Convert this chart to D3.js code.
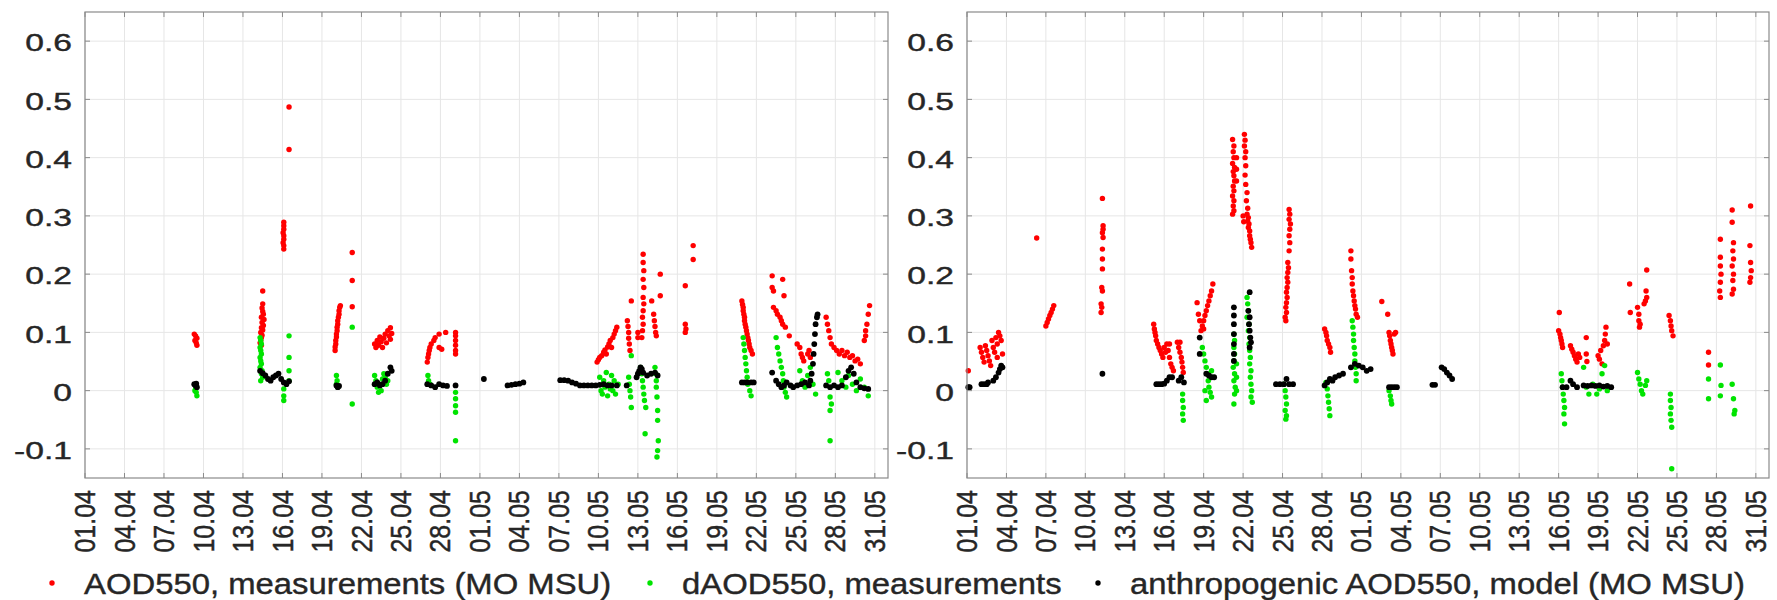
<!DOCTYPE html>
<html>
<head>
<meta charset="utf-8">
<script src="https://cdn.jsdelivr.net/npm/d3@7"></script>
<style>
  html, body { margin: 0; padding: 0; background: #fff; }
  svg { display: block; font-family: "Liberation Sans", Arial, sans-serif; }
  svg text { stroke: #262626; stroke-width: 0.4px; }
</style>
</head>
<body>
<div id="chart"></div>
<script>
// points are [days since 01.04, value]

// left panel
const leftAOD = [
  [8.3,0.097],[8.4,0.094],[8.5,0.09],[8.35,0.086],[8.45,0.082],[8.5,0.078],
  [13.5,0.171],[13.5,0.149],[13.45,0.142],[13.5,0.136],[13.55,0.131],[13.4,0.126],[13.6,0.122],[13.45,0.117],[13.55,0.112],
  [13.4,0.108],[13.5,0.104],[13.35,0.1],[13.45,0.095],[13.4,0.091],[13.35,0.086],[13.3,0.082],[13.4,0.078],
  [15.1,0.289],[15.1,0.283],[15.1,0.277],[15.05,0.271],[15.1,0.266],[15.1,0.26],[15.05,0.254],[15.1,0.249],[15.1,0.243],
  [15.5,0.487],[15.5,0.414],
  [19.0,0.069],[19.0,0.075],[19.05,0.08],[19.05,0.086],[19.1,0.092],[19.1,0.097],[19.15,0.103],[19.15,0.109],[19.2,0.114],
  [19.2,0.12],[19.25,0.126],[19.3,0.131],[19.3,0.137],[19.35,0.143],[19.4,0.146],
  [20.3,0.237],[20.3,0.189],[20.3,0.144],
  [22.0,0.08],[22.1,0.074],[22.2,0.086],[22.3,0.078],[22.4,0.092],[22.5,0.084],[22.6,0.074],[22.7,0.09],[22.8,0.097],
  [22.9,0.082],[23.0,0.103],[23.1,0.094],[23.2,0.108],[23.2,0.088],[23.3,0.098],
  [26.0,0.049],[26.05,0.057],[26.1,0.063],[26.15,0.069],[26.2,0.074],[26.3,0.08],[26.5,0.086],[26.6,0.091],[26.9,0.074],
  [27.1,0.071],[27.4,0.1],[26.9,0.097],
  [28.15,0.1],[28.15,0.094],[28.15,0.086],[28.15,0.078],[28.15,0.069],[28.15,0.063],
  [38.9,0.049],[39.0,0.053],[39.1,0.057],[39.25,0.06],[39.4,0.066],[39.5,0.07],[39.6,0.063],[39.7,0.075],[39.8,0.08],
  [39.9,0.086],[40.0,0.074],[40.1,0.091],[40.2,0.097],[40.3,0.103],[40.4,0.109],
  [41.2,0.12],[41.25,0.11],[41.3,0.1],[41.3,0.09],[41.35,0.08],[41.4,0.069],[41.5,0.154],
  [42.4,0.234],[42.4,0.22],[42.45,0.206],[42.4,0.191],[42.45,0.177],[42.4,0.16],[42.45,0.149],[42.4,0.137],[42.35,0.126],
  [42.4,0.114],[42.35,0.103],[42.3,0.091],[42.0,0.1],[42.0,0.091],
  [43.05,0.154],[43.2,0.131],[43.25,0.12],[43.3,0.11],[43.35,0.1],[43.4,0.094],[43.7,0.2],[43.7,0.163],
  [45.6,0.18],[45.6,0.114],[45.65,0.106],[45.6,0.1],[46.2,0.249],[46.2,0.225],
  [49.9,0.154],[49.95,0.148],[50.0,0.143],[50.0,0.137],[50.05,0.131],[50.1,0.126],[50.1,0.12],[50.15,0.114],[50.2,0.109],
  [50.25,0.103],[50.3,0.097],[50.35,0.091],[50.4,0.086],[50.45,0.08],[50.5,0.074],[50.6,0.069],[50.7,0.063],
  [52.2,0.197],[53.0,0.191],[52.2,0.177],[52.3,0.171],[53.1,0.163],[52.3,0.143],[52.5,0.137],[52.6,0.131],[52.8,0.126],
  [52.9,0.12],[53.0,0.114],[53.2,0.109],[53.5,0.094],
  [54.1,0.08],[54.3,0.074],[54.4,0.063],[54.5,0.057],[54.6,0.051],[54.9,0.063],[55.0,0.069],[55.1,0.057],
  [56.3,0.126],[56.4,0.114],[56.5,0.103],[56.6,0.091],[56.7,0.08],
  [56.9,0.074],[57.1,0.069],[57.3,0.063],[57.5,0.069],[57.7,0.06],[57.9,0.066],[58.1,0.057],[58.3,0.06],[58.5,0.051],
  [58.7,0.054],[58.9,0.046],
  [59.2,0.086],[59.3,0.094],[59.3,0.103],[59.4,0.114],[59.5,0.131],[59.6,0.146]
];
const leftDAOD = [
  [8.4,0.003],[8.45,-0.003],[8.5,-0.009],[8.35,0.0],
  [13.3,0.091],[13.35,0.086],[13.4,0.08],[13.3,0.074],[13.35,0.069],[13.4,0.063],[13.3,0.057],[13.35,0.051],[13.4,0.046],
  [13.3,0.04],[13.45,0.034],[13.4,0.029],[13.5,0.023],[13.35,0.017],
  [15.5,0.094],[15.5,0.057],[15.5,0.034],[15.5,0.017],[15.1,0.003],[15.1,-0.009],[15.1,-0.017],
  [19.1,0.026],[19.15,0.017],[19.1,0.011],[19.2,0.006],
  [20.3,0.109],[20.3,-0.023],
  [22.0,0.026],[22.1,0.017],[22.2,0.006],[22.3,-0.003],[22.4,0.011],[22.5,0.0],[22.6,0.02],[22.7,0.029],[22.8,0.023],
  [22.9,0.011],[23.0,0.017],
  [26.05,0.026],[26.1,0.017],[26.2,0.011],
  [28.15,-0.003],[28.15,-0.014],[28.15,-0.026],[28.15,-0.037],[28.15,-0.086],
  [39.1,0.023],[39.2,0.0],[39.3,-0.006],[39.4,0.017],[39.5,0.006],[39.6,0.031],[39.7,-0.009],[39.8,0.011],[39.9,0.003],
  [40.0,0.026],[40.1,0.0],[40.2,0.017],[40.3,-0.006],[40.5,0.011],
  [41.3,0.023],[41.35,0.011],[41.4,0.0],[41.45,-0.011],[41.5,-0.029],[41.5,0.06],
  [42.2,0.04],[42.3,0.029],[42.35,0.017],[42.4,0.006],[42.45,-0.006],[42.5,-0.017],[42.6,-0.029],[42.55,-0.074],
  [43.3,0.04],[43.35,0.029],[43.4,0.017],[43.4,0.006],[43.45,-0.011],[43.5,-0.034],[43.5,-0.051],[43.55,-0.086],
  [43.5,-0.103],[43.45,-0.114],
  [50.0,0.091],[50.05,0.08],[50.1,0.069],[50.15,0.057],[50.2,0.046],[50.25,0.034],[50.3,0.023],[50.35,0.011],[50.5,0.0],
  [50.6,-0.009],
  [52.5,0.091],[52.6,0.074],[52.7,0.063],[52.8,0.051],[52.9,0.04],[53.0,0.029],[53.05,0.017],[53.1,0.006],[53.2,-0.003],
  [53.3,-0.011],
  [54.3,0.034],[54.5,0.017],[54.7,0.006],[54.9,0.026],[55.1,0.04],[55.3,0.011],[55.5,-0.006],
  [56.4,0.029],[56.5,0.017],[56.6,-0.011],[56.7,-0.023],[56.6,-0.034],[56.6,-0.086],
  [57.2,0.031],[57.5,0.017],[57.8,0.006],[58.0,0.026],[58.3,0.011],[58.6,0.0],[58.9,0.02],[59.2,0.006],[59.5,-0.009]
];
const leftAnthro = [
  [8.3,0.011],[8.4,0.009],[8.5,0.006],[8.45,0.012],
  [13.3,0.034],[13.5,0.03],[13.7,0.026],[13.9,0.02],[14.1,0.017],[14.3,0.023],[14.5,0.026],[14.7,0.029],[14.9,0.02],
  [15.1,0.014],[15.3,0.011],[15.5,0.016],
  [19.1,0.009],[19.2,0.006],[19.3,0.008],
  [22.0,0.011],[22.2,0.014],[22.4,0.009],[22.6,0.011],[22.8,0.017],[23.0,0.029],[23.2,0.04],[23.3,0.034],
  [26.0,0.011],[26.3,0.009],[26.6,0.006],[26.9,0.011],[27.2,0.009],[27.5,0.008],[28.15,0.009],
  [30.3,0.02],
  [32.1,0.009],[32.4,0.01],[32.7,0.011],[33.0,0.012],[33.3,0.014],
  [36.1,0.018],[36.4,0.018],[36.7,0.017],[37.0,0.014],[37.3,0.012],[37.6,0.009],
  [37.9,0.009],[38.2,0.009],[38.5,0.009],[38.8,0.009],[39.1,0.01],[39.4,0.011],[39.7,0.009],[40.0,0.009],[40.4,0.009],
  [41.15,0.009],
  [41.9,0.023],[42.0,0.029],[42.1,0.034],[42.2,0.04],[42.3,0.037],[42.4,0.031],[42.7,0.026],[43.0,0.029],[43.3,0.031],
  [43.5,0.026],
  [49.9,0.014],[50.1,0.014],[50.3,0.014],[50.6,0.014],[50.8,0.014],
  [52.2,0.031],[52.5,0.017],[52.7,0.011],[52.9,0.006],[53.1,0.009],[53.3,0.014],[53.6,0.009],
  [53.8,0.006],[54.1,0.009],[54.4,0.011],[54.7,0.014],[55.0,0.009],
  [55.1,0.017],[55.2,0.029],[55.3,0.046],[55.35,0.063],[55.4,0.08],[55.45,0.097],[55.5,0.114],[55.6,0.126],[55.65,0.131],
  [56.3,0.009],[56.6,0.006],[56.9,0.009],[57.2,0.006],[57.5,0.009],[57.8,0.023],[58.0,0.034],[58.2,0.04],[58.4,0.029],
  [58.6,0.014],[58.9,0.006],[59.2,0.004],[59.5,0.003]
];

// right panel
const rightAOD = [
  [0.1,0.034],
  [1.0,0.074],[1.1,0.066],[1.2,0.057],[1.3,0.049],[1.4,0.077],[1.5,0.069],[1.6,0.06],[1.7,0.051],[1.8,0.043],
  [1.9,0.086],[2.0,0.074],[2.1,0.066],[2.2,0.091],[2.3,0.08],[2.4,0.1],[2.5,0.094],[2.6,0.086],[2.7,0.063],[2.3,0.057],
  [5.3,0.262],
  [6.0,0.111],[6.1,0.117],[6.2,0.123],[6.3,0.129],[6.4,0.134],[6.5,0.14],[6.6,0.146],
  [10.3,0.33],[10.35,0.283],[10.35,0.277],[10.3,0.271],[10.35,0.263],[10.3,0.243],[10.3,0.226],[10.3,0.209],[10.25,0.177],
  [10.3,0.171],[10.2,0.149],[10.25,0.143],[10.2,0.134],
  [14.2,0.114],[14.25,0.106],[14.3,0.1],[14.35,0.094],[14.4,0.086],[14.5,0.08],[14.6,0.074],[14.7,0.069],[14.8,0.063],
  [14.9,0.057],[15.0,0.074],[15.1,0.066],
  [15.2,0.08],[15.3,0.069],[15.4,0.057],[15.5,0.046],[15.6,0.04],[15.7,0.034],[15.4,0.08],
  [16.0,0.083],[16.1,0.074],[16.2,0.066],[16.3,0.057],[16.35,0.049],[16.4,0.04],[16.45,0.031],[16.2,0.083],
  [17.5,0.151],[17.6,0.131],[17.7,0.12],[17.8,0.103],[17.9,0.111],[18.0,0.12],[18.1,0.129],[18.2,0.137],[18.3,0.146],
  [18.4,0.154],[18.5,0.163],[18.6,0.171],[18.7,0.183],[18.0,0.106],
  [20.2,0.431],[20.3,0.42],[20.25,0.41],[20.3,0.4],[20.2,0.39],[20.35,0.383],[20.25,0.376],[20.3,0.369],[20.35,0.36],
  [20.25,0.351],[20.3,0.343],[20.2,0.334],[20.3,0.326],[20.25,0.317],[20.3,0.309],[20.2,0.303],[20.5,0.4],[20.5,0.38],
  [20.5,0.36],
  [21.1,0.44],[21.15,0.43],[21.1,0.42],[21.2,0.41],[21.15,0.4],[21.2,0.386],[21.15,0.37],[21.2,0.354],[21.3,0.34],
  [21.25,0.326],[21.35,0.313],[21.3,0.303],[21.4,0.297],[21.35,0.291],[21.45,0.286],[21.4,0.28],[21.5,0.274],[21.5,0.266],
  [21.55,0.26],[21.6,0.254],[21.65,0.246],[21.0,0.3],[21.05,0.29],
  [24.5,0.311],[24.55,0.303],[24.5,0.294],[24.6,0.286],[24.55,0.277],[24.5,0.266],[24.55,0.254],[24.5,0.24],[24.4,0.22],
  [24.45,0.211],[24.4,0.203],[24.35,0.194],[24.4,0.186],[24.35,0.177],[24.3,0.169],[24.35,0.16],[24.3,0.151],[24.25,0.143],
  [24.3,0.134],[24.2,0.126],[24.25,0.12],
  [27.2,0.106],[27.3,0.1],[27.35,0.094],[27.4,0.086],[27.5,0.08],[27.6,0.074],[27.65,0.066],
  [29.2,0.24],[29.2,0.226],[29.25,0.206],[29.3,0.194],[29.3,0.183],[29.35,0.171],[29.4,0.163],[29.45,0.154],[29.5,0.146],
  [29.55,0.14],[29.6,0.131],[29.7,0.126],
  [31.55,0.153],[32.0,0.131],[32.1,0.1],[32.15,0.094],[32.2,0.086],[32.25,0.08],[32.3,0.074],[32.35,0.069],[32.4,0.063],
  [32.5,0.097],[32.6,0.1],
  [45.05,0.134],[45.0,0.103],[45.1,0.097],[45.15,0.091],[45.2,0.086],[45.25,0.08],[45.3,0.074],
  [45.9,0.077],[46.0,0.071],[46.1,0.066],[46.2,0.06],[46.3,0.054],[46.4,0.049],[46.5,0.063],[46.6,0.057],
  [47.1,0.091],[47.1,0.063],[47.15,0.05],
  [48.0,0.06],[48.1,0.054],[48.2,0.069],[48.3,0.046],[48.4,0.077],[48.5,0.086],[48.55,0.097],[48.6,0.109],[48.7,0.08],
  [50.4,0.183],[50.45,0.134],[51.0,0.143],[51.1,0.131],[51.1,0.12],[51.2,0.114],[51.15,0.109],[51.7,0.207],[51.65,0.171],
  [51.7,0.16],[51.6,0.154],[51.5,0.149],
  [53.4,0.129],[53.5,0.12],[53.55,0.111],[53.6,0.103],[53.7,0.094],
  [56.4,0.066],[56.4,0.044],
  [57.3,0.26],[57.3,0.229],[57.3,0.214],[57.35,0.2],[57.3,0.186],[57.25,0.171],[57.3,0.16],
  [58.2,0.31],[58.2,0.289],[58.3,0.254],[58.25,0.24],[58.3,0.226],[58.2,0.214],[58.3,0.2],[58.25,0.189],[58.3,0.174],
  [58.2,0.166],
  [59.6,0.317],[59.55,0.249],[59.6,0.22],[59.65,0.206],[59.6,0.194],[59.55,0.186]
];
const rightDAOD = [
  [16.4,-0.006],[16.4,-0.017],[16.45,-0.029],[16.4,-0.04],[16.45,-0.051],
  [17.9,0.074],[18.0,0.063],[18.1,0.051],[18.2,0.04],[18.3,0.029],[18.35,0.017],[18.4,0.006],[18.5,-0.003],[18.6,-0.011],
  [18.1,0.0],[18.2,-0.017],[18.6,0.034],
  [20.3,0.097],[20.35,0.086],[20.3,0.074],[20.35,0.063],[20.3,0.051],[20.25,0.04],[20.35,0.029],[20.3,0.017],[20.4,0.006],
  [20.35,-0.006],[20.3,-0.023],[20.5,0.046],[20.5,0.023],[20.5,0.0],
  [21.3,0.16],[21.35,0.149],[21.4,0.137],[21.3,0.126],[21.45,0.114],[21.4,0.103],[21.5,0.091],[21.45,0.08],[21.5,0.069],
  [21.55,0.057],[21.5,0.046],[21.6,0.034],[21.55,0.023],[21.6,0.011],[21.65,0.0],[21.6,-0.011],[21.7,-0.02],
  [24.1,0.011],[24.2,0.0],[24.25,-0.011],[24.3,-0.023],[24.2,-0.034],[24.3,-0.043],[24.25,-0.049],
  [27.3,0.014],[27.4,0.003],[27.45,-0.009],[27.5,-0.02],[27.55,-0.031],[27.6,-0.043],
  [29.3,0.12],[29.35,0.109],[29.4,0.097],[29.4,0.086],[29.45,0.074],[29.5,0.063],[29.5,0.051],[29.55,0.04],[29.6,0.029],
  [29.6,0.017],
  [32.1,0.0],[32.2,-0.009],[32.25,-0.017],[32.3,-0.023],
  [45.2,0.029],[45.25,0.017],[45.3,0.006],[45.35,-0.006],[45.4,-0.017],[45.45,-0.029],[45.4,-0.04],[45.45,-0.057],
  [46.9,0.04],[47.1,0.006],[47.3,-0.006],[47.6,0.011],[47.9,-0.006],[48.1,0.003],[48.3,0.029],[48.5,0.043],[48.7,0.0],
  [51.0,0.031],[51.1,0.02],[51.2,0.011],[51.3,0.0],[51.4,-0.006],[51.6,0.009],[51.7,0.017],
  [53.5,-0.006],[53.5,-0.017],[53.55,-0.029],[53.5,-0.04],[53.55,-0.051],[53.6,-0.063],[53.6,-0.134],
  [56.4,0.02],[56.4,-0.014],
  [57.3,0.044],[57.35,0.009],[57.3,-0.009],[58.2,0.011],[58.3,-0.014],[58.35,-0.04],[58.4,-0.034]
];
const rightAnthro = [
  [0.1,0.006],[0.2,0.006],
  [1.1,0.011],[1.3,0.011],[1.5,0.011],[1.6,0.014],
  [2.0,0.017],[2.2,0.023],[2.4,0.031],[2.5,0.037],[2.6,0.043],[2.7,0.04],
  [10.3,0.029],
  [14.4,0.011],[14.6,0.011],[14.8,0.011],[15.0,0.012],[15.2,0.017],[15.4,0.023],[15.6,0.023],
  [16.1,0.017],[16.3,0.023],[16.5,0.014],
  [17.7,0.091],[17.7,0.063],[18.2,0.029],[18.4,0.026],[18.6,0.023],[18.8,0.023],
  [20.3,0.143],[20.3,0.129],[20.3,0.114],[20.3,0.097],[20.3,0.08],[20.3,0.063],[20.3,0.051],
  [21.5,0.169],[21.4,0.137],[21.5,0.126],[21.45,0.114],[21.5,0.103],[21.55,0.091],[21.6,0.083],[21.5,0.074],
  [23.5,0.011],[23.8,0.011],[24.1,0.011],[24.3,0.02],[24.5,0.011],[24.8,0.011],
  [27.2,0.009],[27.4,0.014],[27.6,0.02],[27.8,0.017],[28.0,0.023],[28.3,0.026],[28.6,0.029],
  [29.2,0.04],[29.5,0.046],[29.8,0.043],[30.1,0.04],[30.4,0.034],[30.7,0.037],
  [32.1,0.006],[32.3,0.006],[32.5,0.006],[32.7,0.006],
  [35.4,0.01],[35.6,0.01],[36.1,0.04],[36.3,0.037],[36.5,0.031],[36.7,0.026],[36.9,0.02],
  [45.3,0.006],[45.6,0.006],[45.9,0.017],[46.1,0.011],[46.4,0.006],
  [46.9,0.009],[47.2,0.008],[47.5,0.009],[47.8,0.008],[48.1,0.009],[48.4,0.007],[48.7,0.008],[49.0,0.006]
];

const seriesNames = ['AOD550, measurements (MO MSU)', 'dAOD550, measurements', 'anthropogenic AOD550, model (MO MSU)'];
const seriesColors = ['#ff0000', '#00e400', '#000000'];
const yTicks = [-0.1, 0, 0.1, 0.2, 0.3, 0.4, 0.5, 0.6];
const yTickLabels = ['-0.1', '0', '0.1', '0.2', '0.3', '0.4', '0.5', '0.6'];

const W = 1777, H = 600;
const plotTop = 12, plotBottom = 478;
const panels = [
  { x0: 85, x1: 888, series: [leftAOD, leftDAOD, leftAnthro] },
  { x0: 967, x1: 1769, series: [rightAOD, rightDAOD, rightAnthro] }
];
const textColor = '#262626';
const axisColor = '#8a8a8a';
const gridColor = '#e6e6e6';

const startDate = new Date(Date.UTC(2020, 3, 1));
const endDate = new Date(Date.UTC(2020, 5, 1));
const toDate = d => new Date(startDate.getTime() + d * 864e5);
const fmt = d3.utcFormat('%d.%m');

const svg = d3.select('#chart').append('svg')
  .attr('width', W).attr('height', H);

const y = d3.scaleLinear().domain([-0.15, 0.65]).range([plotBottom, plotTop]);

panels.forEach(p => {
  const x = d3.scaleUtc().domain([startDate, endDate]).range([p.x0, p.x1]);
  const xTicks = d3.utcDay.every(3).range(startDate, endDate);
  const g = svg.append('g');

  // grid
  g.append('g').selectAll('line').data(xTicks).join('line')
    .attr('x1', d => x(d)).attr('x2', d => x(d))
    .attr('y1', plotTop).attr('y2', plotBottom)
    .attr('stroke', gridColor).attr('stroke-width', 1);
  g.append('g').selectAll('line').data(yTicks).join('line')
    .attr('x1', p.x0).attr('x2', p.x1)
    .attr('y1', d => y(d)).attr('y2', d => y(d))
    .attr('stroke', gridColor).attr('stroke-width', 1);

  // points: red, green, black
  p.series.forEach((pts, i) => {
    g.append('g').selectAll('circle').data(pts).join('circle')
      .attr('cx', d => x(toDate(d[0])))
      .attr('cy', d => y(d[1]))
      .attr('r', i === 2 ? 2.9 : 2.7)
      .attr('fill', seriesColors[i]);
  });

  // box
  g.append('rect')
    .attr('x', p.x0).attr('y', plotTop)
    .attr('width', p.x1 - p.x0).attr('height', plotBottom - plotTop)
    .attr('fill', 'none').attr('stroke', axisColor).attr('stroke-width', 1.2);

  // ticks (inward, both sides)
  xTicks.forEach(d => {
    g.append('line').attr('x1', x(d)).attr('x2', x(d)).attr('y1', plotBottom).attr('y2', plotBottom - 5)
      .attr('stroke', axisColor);
    g.append('line').attr('x1', x(d)).attr('x2', x(d)).attr('y1', plotTop).attr('y2', plotTop + 5)
      .attr('stroke', axisColor);
  });
  yTicks.forEach(v => {
    g.append('line').attr('x1', p.x0).attr('x2', p.x0 + 5).attr('y1', y(v)).attr('y2', y(v))
      .attr('stroke', axisColor);
    g.append('line').attr('x1', p.x1).attr('x2', p.x1 - 5).attr('y1', y(v)).attr('y2', y(v))
      .attr('stroke', axisColor);
  });

  // y labels
  yTicks.forEach((v, i) => {
    g.append('g')
      .attr('transform', `translate(${p.x0 - 13},${y(v)}) scale(1.4,1)`)
      .append('text')
      .attr('text-anchor', 'end')
      .attr('dy', '0.43em')
      .attr('font-size', 24)
      .attr('fill', textColor)
      .text(yTickLabels[i]);
  });

  // x labels, rotated
  xTicks.forEach(d => {
    g.append('g')
      .attr('transform', `translate(${x(d)},${plotBottom + 12}) scale(1.15,1) rotate(-90)`)
      .append('text')
      .attr('text-anchor', 'end')
      .attr('dy', '0.35em')
      .attr('font-size', 25)
      .attr('fill', textColor)
      .text(fmt(d));
  });
});

// legend
const legendX = [52, 650, 1098];
const legend = svg.append('g');
seriesNames.forEach((name, i) => {
  legend.append('circle')
    .attr('cx', legendX[i]).attr('cy', 583).attr('r', 2.7)
    .attr('fill', seriesColors[i]);
  legend.append('g')
    .attr('transform', `translate(${legendX[i] + 32},594) scale(1.095,1)`)
    .append('text')
    .attr('font-size', 30)
    .attr('fill', textColor)
    .text(name);
});
</script>
</body>
</html>
